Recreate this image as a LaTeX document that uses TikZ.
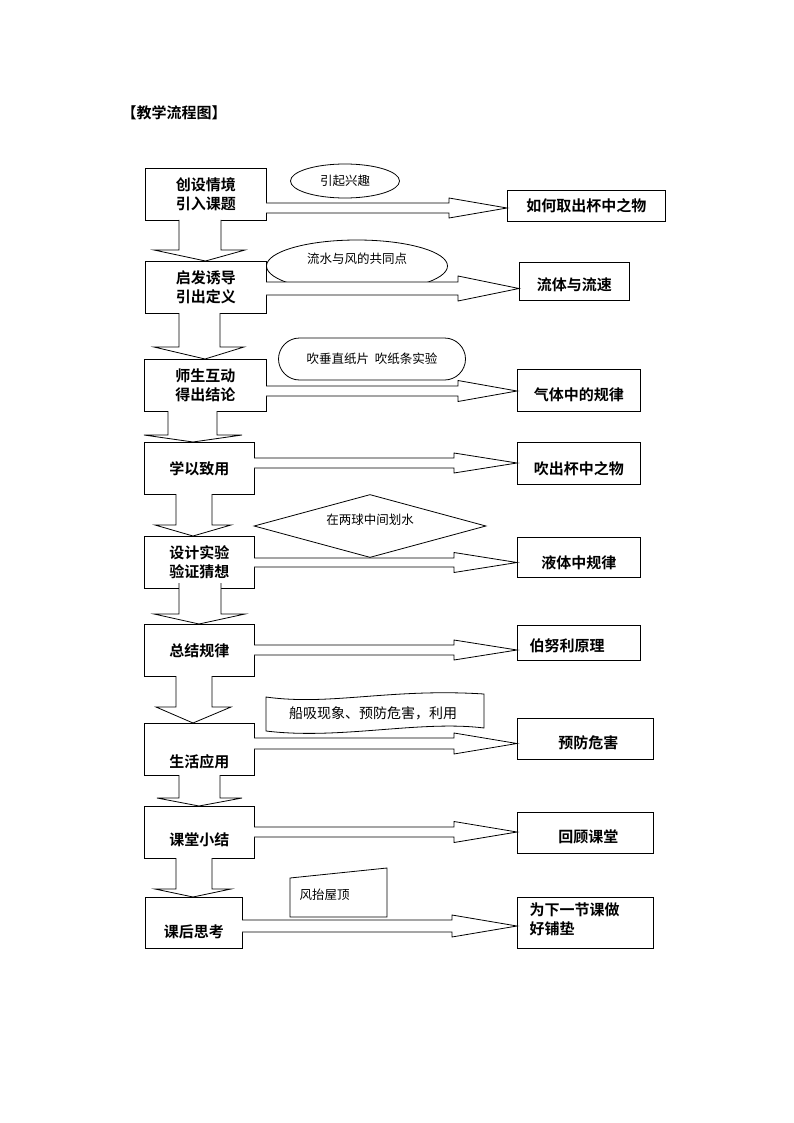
\documentclass[tikz,border=0pt]{standalone}
\usepackage{fontspec}
\usetikzlibrary{shapes.geometric}
\newfontfamily\cjk{Noto Sans CJK SC}
\newfontfamily\cjkb{Noto Sans CJK SC Bold}
\tikzset{
 lbox/.style={draw,thick,fill=white,inner sep=0pt,anchor=north west},
 big/.style={font=\cjkb\fontsize{15}{19}\selectfont,align=center},
 small/.style={font=\cjk\fontsize{12.5}{15}\selectfont},
 blk/.style={draw,line width=0.8pt,fill=white},
}
\newcommand\harr[6]{% x1 x2 yc halfshaft halfhead headx
 \draw[blk] (#1,#3-#4)--(#6,#3-#4)--(#6,#3-#5)--(#2,#3)--(#6,#3+#5)--(#6,#3+#4)--(#1,#3+#4);}
\newcommand\varr[8]{% xa xb ytop ybase xc xd ytip
 \draw[blk] (#1,#3)--(#1,#4)--(#5,#4)--(#8,#7)--(#6,#4)--(#2,#4)--(#2,#3);}
\begin{document}
\begin{tikzpicture}[x=1pt,y=-1pt]
\useasboundingbox (0,0) rectangle (794,1123);
\node[font=\cjkb\fontsize{15}{18}\selectfont,anchor=west] (title) at (118,113) {【教学流程图】};
% left boxes
\foreach \n/\x/\y/\w/\h in {1/145/168/121/52,2/145/261/121/52,3/144/359/122/52,4/144/442/110/52,5/144/536/110/52,6/144/624/110/52,7/144/723/110/52,8/144/806/110/52,9/145/897/97/51}
 \node[lbox,minimum width=\w pt,minimum height=\h pt] (L\n) at (\x,\y) {};
% right boxes
\foreach \n/\x/\y/\w/\h in {1/507/190/158/31,2/519/262/110/38,3/517/369/123/42,4/517/442/123/42,5/517/537/123/40,6/517/625/123/35,7/517/718/136/41,8/517/812/136/41,9/517/897/136/51}
 \node[lbox,minimum width=\w pt,minimum height=\h pt] (R\n) at (\x,\y) {};
% left texts
\node[big] at (L1) {创设情境\\引入课题};
\node[big] at (L2) {启发诱导\\引出定义};
\node[big] at (L3) {师生互动\\得出结论};
\node[big] at (L4) {学以致用};
\node[big] at (L5) {设计实验\\验证猜想};
\node[big] at (L6) {总结规律};
\node[big] at ([yshift=-12pt]L7.center) {生活应用};
\node[big] at ([yshift=-7pt]L8.center) {课堂小结};
\node[big] at ([yshift=-9pt]L9.center) {课后思考};
% right texts
\node[big] at (R1) {如何取出杯中之物};
\node[big] at ([yshift=-3pt]R2.center) {流体与流速};
\node[big] at ([yshift=-4pt]R3.center) {气体中的规律};
\node[big] at ([yshift=-5pt]R4.center) {吹出杯中之物};
\node[big] at ([yshift=-5pt]R5.center) {液体中规律};
\node[big,anchor=west] at ([xshift=9pt,yshift=-3pt]R6.west) {伯努利原理};
\node[big] at ([xshift=3pt,yshift=-4pt]R7.center) {预防危害};
\node[big] at ([xshift=3pt,yshift=-4pt]R8.center) {回顾课堂};
\node[big,align=left,anchor=north west] at ([xshift=9pt,yshift=-2pt]R9.north west) {为下一节课做\\好铺垫};
% side notes
\node[draw,ellipse,thick,minimum width=109pt,minimum height=34pt,small] (e1) at (345,181) {引起兴趣};
\node[draw,ellipse,thick,minimum width=181pt,minimum height=52pt,small,text depth=16pt] (e2) at (357,266) {流水与风的共同点};
\node[draw,thick,rounded corners=21pt,minimum width=187pt,minimum height=42pt,small] (e3) at (372,359) {吹垂直纸片\ \ 吹纸条实验};
\node[draw,diamond,thick,aspect=3.7,minimum width=232pt,minimum height=63pt,inner sep=0pt,small,text depth=14pt] (d5) at (370,526) {在两球中间划水};
\draw[thick] (266,697) .. controls (330,706) and (390,688) .. (484,694) -- (484,728) .. controls (420,720) and (340,740) .. (266,731) -- cycle;
\node[small,font=\cjk\fontsize{14}{16}\selectfont] (n7) at (373,713) {船吸现象、预防危害，利用};
\draw[thick] (290,878) -- (387,868) -- (387,917) -- (290,917) -- cycle;
\node[small,anchor=west] (n9) at (296,895) {风抬屋顶};
% horizontal block arrows
\harr{266}{507}{208}{5}{10}{449}
\harr{266}{519}{288.5}{6.5}{12.5}{458}
\harr{266}{517}{391}{5}{10.5}{458}
\harr{254}{517}{463}{5}{10}{454}
\harr{254}{517}{562.5}{4.5}{10}{454}
\harr{254}{517}{650}{5}{10}{454}
\harr{254}{517}{743.5}{5.5}{10.5}{454}
\harr{254}{517}{832}{5}{10.5}{454}
\harr{242}{517}{926}{6}{11}{452}
% vertical block arrows
\varr{179}{221}{220}{250}{154}{245}{261}{205.5}
\varr{179}{220}{313}{347}{154}{244}{359}{205}
\varr{168}{217}{411}{435}{144}{242}{442}{193}
\varr{176}{212}{494}{525}{155}{231}{536}{193}
\varr{179}{221}{583}{614}{154}{245}{624}{199}
\varr{176}{212}{676}{707}{156}{231}{723}{193}
\varr{179}{220}{775}{798}{157}{242}{806}{199}
\varr{176}{212}{858}{889}{155}{231}{897}{193}
\end{tikzpicture}
\end{document}
